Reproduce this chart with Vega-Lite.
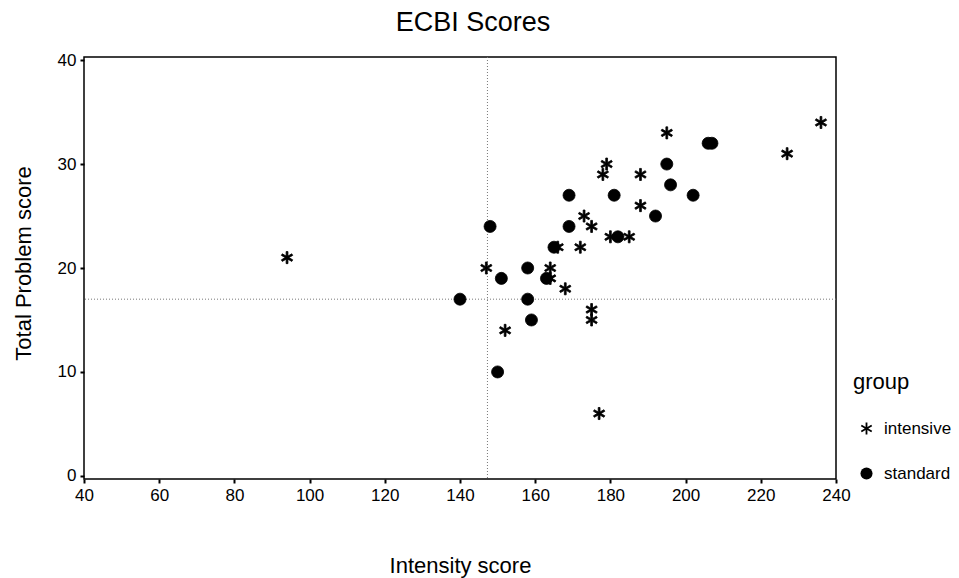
{
  "$schema": "https://vega.github.io/schema/vega-lite/v6.json",
  "width": 752,
  "height": 422,
  "autosize": {"type": "none"},
  "padding": {"left": 84, "top": 57, "right": 123, "bottom": 99},
  "title": {"text": "ECBI Scores", "fontSize": 27, "fontWeight": "normal", "font": "Liberation Sans", "color": "black", "offset": 14, "dx": 13},
  "config": {
    "font": "Liberation Sans",
    "view": {"stroke": "black", "strokeWidth": 1.5},
    "axis": {"grid": false, "domain": false, "tickColor": "black", "tickSize": 4, "tickWidth": 2, "labelColor": "black", "labelFontSize": 17, "titleFontSize": 22, "titleFontWeight": "normal", "titleColor": "black", "labelFont": "Liberation Sans", "titleFont": "Liberation Sans", "labelFlush": false}
  },
  "datasets": {
    "scores": [
      {"intensity": 236, "problem": 34, "group": "intensive"},
      {"intensity": 195, "problem": 33, "group": "intensive"},
      {"intensity": 227, "problem": 31, "group": "intensive"},
      {"intensity": 179, "problem": 30, "group": "intensive"},
      {"intensity": 178, "problem": 29, "group": "intensive"},
      {"intensity": 188, "problem": 29, "group": "intensive"},
      {"intensity": 188, "problem": 26, "group": "intensive"},
      {"intensity": 173, "problem": 25, "group": "intensive"},
      {"intensity": 175, "problem": 24, "group": "intensive"},
      {"intensity": 180, "problem": 23, "group": "intensive"},
      {"intensity": 185, "problem": 23, "group": "intensive"},
      {"intensity": 172, "problem": 22, "group": "intensive"},
      {"intensity": 166, "problem": 22, "group": "intensive"},
      {"intensity": 147, "problem": 20, "group": "intensive"},
      {"intensity": 164, "problem": 20, "group": "intensive"},
      {"intensity": 164, "problem": 19, "group": "intensive"},
      {"intensity": 168, "problem": 18, "group": "intensive"},
      {"intensity": 175, "problem": 16, "group": "intensive"},
      {"intensity": 175, "problem": 15, "group": "intensive"},
      {"intensity": 152, "problem": 14, "group": "intensive"},
      {"intensity": 177, "problem": 6, "group": "intensive"},
      {"intensity": 94, "problem": 21, "group": "intensive"},
      {"intensity": 206, "problem": 32, "group": "standard"},
      {"intensity": 207, "problem": 32, "group": "standard"},
      {"intensity": 195, "problem": 30, "group": "standard"},
      {"intensity": 196, "problem": 28, "group": "standard"},
      {"intensity": 202, "problem": 27, "group": "standard"},
      {"intensity": 169, "problem": 27, "group": "standard"},
      {"intensity": 181, "problem": 27, "group": "standard"},
      {"intensity": 192, "problem": 25, "group": "standard"},
      {"intensity": 148, "problem": 24, "group": "standard"},
      {"intensity": 169, "problem": 24, "group": "standard"},
      {"intensity": 182, "problem": 23, "group": "standard"},
      {"intensity": 165, "problem": 22, "group": "standard"},
      {"intensity": 158, "problem": 20, "group": "standard"},
      {"intensity": 151, "problem": 19, "group": "standard"},
      {"intensity": 163, "problem": 19, "group": "standard"},
      {"intensity": 140, "problem": 17, "group": "standard"},
      {"intensity": 158, "problem": 17, "group": "standard"},
      {"intensity": 159, "problem": 15, "group": "standard"},
      {"intensity": 150, "problem": 10, "group": "standard"}
    ],
    "means": [
      {"meanIntensity": 147.3, "meanProblem": 17.0}
    ]
  },
  "layer": [
    {
      "data": {"name": "means"},
      "mark": {"type": "rule", "color": "#777777", "strokeWidth": 1, "strokeDash": [1, 2]},
      "encoding": {"x": {"field": "meanIntensity", "type": "quantitative", "scale": {"domain": [40, 240], "nice": false, "zero": false}}}
    },
    {
      "data": {"name": "means"},
      "mark": {"type": "rule", "color": "#777777", "strokeWidth": 1, "strokeDash": [1, 2]},
      "encoding": {"y": {"field": "meanProblem", "type": "quantitative", "scale": {"domain": [-0.3, 40.3], "nice": false, "zero": false}}}
    },
    {
      "data": {"name": "scores"},
      "mark": {"type": "point", "filled": true, "color": "black", "stroke": "black", "strokeWidth": 0.8, "opacity": 1, "size": 145},
      "encoding": {
        "x": {"field": "intensity", "type": "quantitative", "title": "Intensity score",
              "scale": {"domain": [40, 240], "nice": false, "zero": false},
              "axis": {"values": [40, 60, 80, 100, 120, 140, 160, 180, 200, 220, 240], "labelPadding": 4, "titleY": 76}},
        "y": {"field": "problem", "type": "quantitative", "title": "Total Problem score",
              "scale": {"domain": [-0.3, 40.3], "nice": false, "zero": false},
              "axis": {"values": [0, 10, 20, 30, 40], "labelPadding": 4, "titleX": -61, "titleY": 206, "titleBaseline": "middle"}},
        "shape": {"field": "group", "type": "nominal",
                  "scale": {"domain": ["intensive", "standard"], "range": ["M0.15,1L-0.15,1L-0.15,0.26L-0.791,0.63L-0.941,0.37L-0.3,0L-0.941,-0.37L-0.791,-0.63L-0.15,-0.26L-0.15,-1L0.15,-1L0.15,-0.26L0.791,-0.63L0.941,-0.37L0.3,0L0.941,0.37L0.791,0.63L0.15,0.26Z", "circle"]},
                  "legend": {"title": "group", "orient": "none", "legendX": 769, "legendY": 315,
                             "titleFontSize": 22, "titleFontWeight": "normal", "titleColor": "black",
                             "labelFontSize": 17, "labelColor": "black", "titlePadding": 26, "rowPadding": 27,
                             "symbolSize": 145, "symbolOffset": 5, "symbolFillColor": "black", "symbolStrokeColor": "black", "symbolStrokeWidth": 0.8, "labelOffset": 9,
                             "encode": {"symbols": {"update": {"fill": {"value": "black"}, "opacity": {"value": 1}}}}}}
      }
    }
  ]
}
